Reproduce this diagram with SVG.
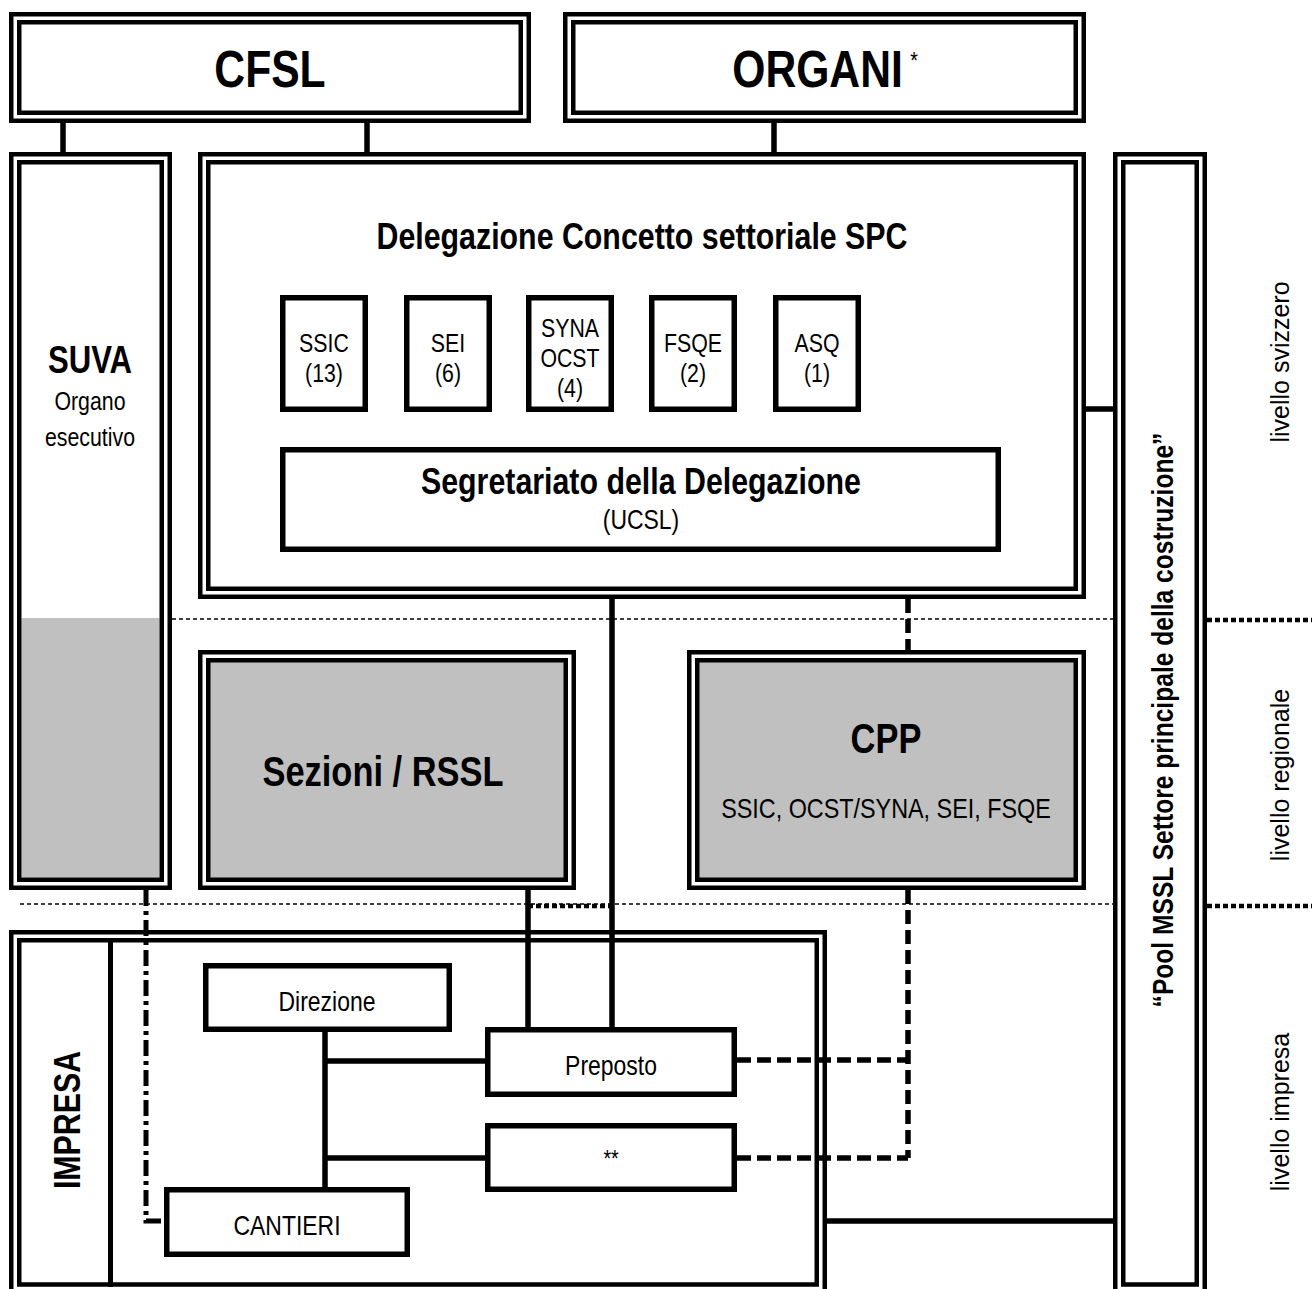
<svg xmlns="http://www.w3.org/2000/svg" width="1312" height="1289" viewBox="0 0 1312 1289">
<style>
.o{fill:none;stroke:#000;stroke-width:4.5}
.g{fill:#c0c0c0;stroke:#000;stroke-width:4.5}
.b{fill:#fff;stroke:#000;stroke-width:5.5}
.ln{fill:none;stroke:#000;stroke-width:5.5}
.da{fill:none;stroke:#000;stroke-width:5.5;stroke-dasharray:14 6}
.dd{fill:none;stroke:#000;stroke-width:5;stroke-dasharray:16 5 4 5}
.dt{fill:none;stroke:#000;stroke-width:1.5;stroke-dasharray:4 3}
.td{fill:none;stroke:#000;stroke-width:4.5;stroke-dasharray:5 3}
text{font-family:"Liberation Sans Narrow","Liberation Sans",Arial,sans-serif;fill:#000;text-anchor:middle}
.n{transform-box:fill-box;transform-origin:center;transform:scaleX(.82)}
.h1{font-size:52px;font-weight:bold}
.h2{font-size:37px;font-weight:bold}
.h3{font-size:42px;font-weight:bold}
.s{font-size:26px}
.m{font-size:28px}
.lv{font-family:"Liberation Sans",Arial,sans-serif;font-size:25px}
</style>
<rect width="1312" height="1289" fill="#fff"/>
<g id="cfsl">
<rect class="o" x="11.25" y="14.25" width="517.5" height="106.5"/>
<rect class="o" x="19.25" y="22.25" width="501.5" height="90.5"/>
<text class="h1 n" x="270" y="87">CFSL</text>
</g>
<g id="organi">
<rect class="o" x="565.25" y="14.25" width="518.5" height="106.5"/>
<rect class="o" x="573.25" y="22.25" width="502.5" height="90.5"/>
<text class="h1 n" x="825" y="87">ORGANI<tspan dx="9" dy="-18" style="font-size:24px;font-weight:normal">*</tspan></text>
</g>
<g id="suva">
<rect class="o" x="11.25" y="154.25" width="158.5" height="733.5"/>
<rect x="21.5" y="618" width="138" height="259.5" fill="#c0c0c0"/>
<rect class="o" x="19.25" y="162.25" width="142.5" height="717.5"/>
<text class="n" x="90" y="373" style="font-size:38px;font-weight:bold">SUVA</text>
<text class="s n" x="90" y="410">Organo</text>
<text class="s n" x="90" y="446">esecutivo</text>
</g>
<g id="delegazione">
<rect class="o" x="200.25" y="154.25" width="883.5" height="442.5"/>
<rect class="o" x="208.25" y="162.25" width="867.5" height="426.5"/>
<text class="h2 n" x="642" y="249">Delegazione Concetto settoriale SPC</text>
</g>
<g id="ssic">
<rect class="b" x="282.75" y="297.75" width="82.5" height="111.5"/>
<text class="s n" x="324" y="352">SSIC</text>
<text class="s n" x="324" y="382">(13)</text>
</g>
<g id="sei">
<rect class="b" x="406.75" y="297.75" width="82.5" height="111.5"/>
<text class="s n" x="448" y="352">SEI</text>
<text class="s n" x="448" y="382">(6)</text>
</g>
<g id="syna">
<rect class="b" x="528.75" y="297.75" width="82.5" height="111.5"/>
<text class="s n" x="570" y="337">SYNA</text>
<text class="s n" x="570" y="367">OCST</text>
<text class="s n" x="570" y="397">(4)</text>
</g>
<g id="fsqe">
<rect class="b" x="651.75" y="297.75" width="82.5" height="111.5"/>
<text class="s n" x="693" y="352">FSQE</text>
<text class="s n" x="693" y="382">(2)</text>
</g>
<g id="asq">
<rect class="b" x="775.75" y="297.75" width="82.5" height="111.5"/>
<text class="s n" x="817" y="352">ASQ</text>
<text class="s n" x="817" y="382">(1)</text>
</g>
<g id="segretariato">
<rect class="b" x="282.75" y="449.75" width="715.5" height="99.5"/>
<text class="h2 n" x="641" y="494">Segretariato della Delegazione</text>
<text class="n" x="641" y="529" style="font-size:28px">(UCSL)</text>
</g>
<g id="pool">
<rect class="o" x="1115.25" y="154.25" width="89.5" height="1143.5"/>
<rect class="o" x="1123.25" y="162.25" width="73.5" height="1122.25"/>
<g transform="translate(1173,720) rotate(-90)"><text transform="scale(0.82,1)" style="font-size:30px;font-weight:bold">“Pool MSSL Settore principale della costruzione”</text></g>
</g>
<g id="sezioni">
<rect class="o" x="200.25" y="652.25" width="373.5" height="235.5"/>
<rect class="g" x="208.25" y="660.25" width="357.5" height="219.5"/>
<text class="h3 n" x="383" y="786">Sezioni / RSSL</text>
</g>
<g id="cpp">
<rect class="o" x="689.25" y="652.25" width="394.5" height="235.5"/>
<rect class="g" x="697.25" y="660.25" width="378.5" height="219.5"/>
<text class="h3 n" x="886" y="753">CPP</text>
<text class="n" x="886" y="818" style="font-size:28.5px">SSIC, OCST/SYNA, SEI, FSQE</text>
</g>
<g id="impresa">
<rect class="o" x="11.25" y="932.25" width="813.5" height="367.75"/>
<rect class="o" x="19.25" y="940.25" width="797.5" height="344.25"/>
<line x1="110.5" y1="942" x2="110.5" y2="1287" stroke="#000" stroke-width="5"/>
<g transform="translate(80,1120) rotate(-90)"><text transform="scale(0.82,1)" style="font-size:37px;font-weight:bold">IMPRESA</text></g>
</g>
<g id="direzione">
<rect class="b" x="205.75" y="965.75" width="243.5" height="63.5"/>
<text class="m n" x="327" y="1011">Direzione</text>
</g>
<g id="preposto">
<rect class="b" x="487.75" y="1029.75" width="246.5" height="64.5"/>
<text class="m n" x="611" y="1075">Preposto</text>
</g>
<g id="stars">
<rect class="b" x="487.75" y="1125.75" width="246.5" height="63.5"/>
<text class="n" x="611" y="1167" style="font-size:24px">**</text>
</g>
<g id="cantieri">
<rect class="b" x="166.75" y="1189.75" width="240.5" height="64.5"/>
<text class="m n" x="287" y="1235">CANTIERI</text>
</g>
<g id="connectors">
<path class="ln" d="M63 123V152M367 123V152M774 123V152M1086 409H1113M612 599V1027M528 890V1027M325 1032V1187M325 1061H485M325 1158H485M827 1221H1113"/>
<path class="da" d="M908 599V650M908 890V1158M737 1060H908M737 1158H908"/>
<path class="dd" d="M146 890V1221H164"/>
<path class="dt" d="M172 619H1113M20 904H1113"/>
<path class="td" d="M528 906H610M1207 620H1312M1207 906H1312"/>
</g>
<g id="levels">
<text class="lv" transform="translate(1289,362) rotate(-90)">livello svizzero</text>
<text class="lv" transform="translate(1289,775) rotate(-90)">livello regionale</text>
<text class="lv" transform="translate(1289,1112) rotate(-90)">livello impresa</text>
</g>
</svg>
